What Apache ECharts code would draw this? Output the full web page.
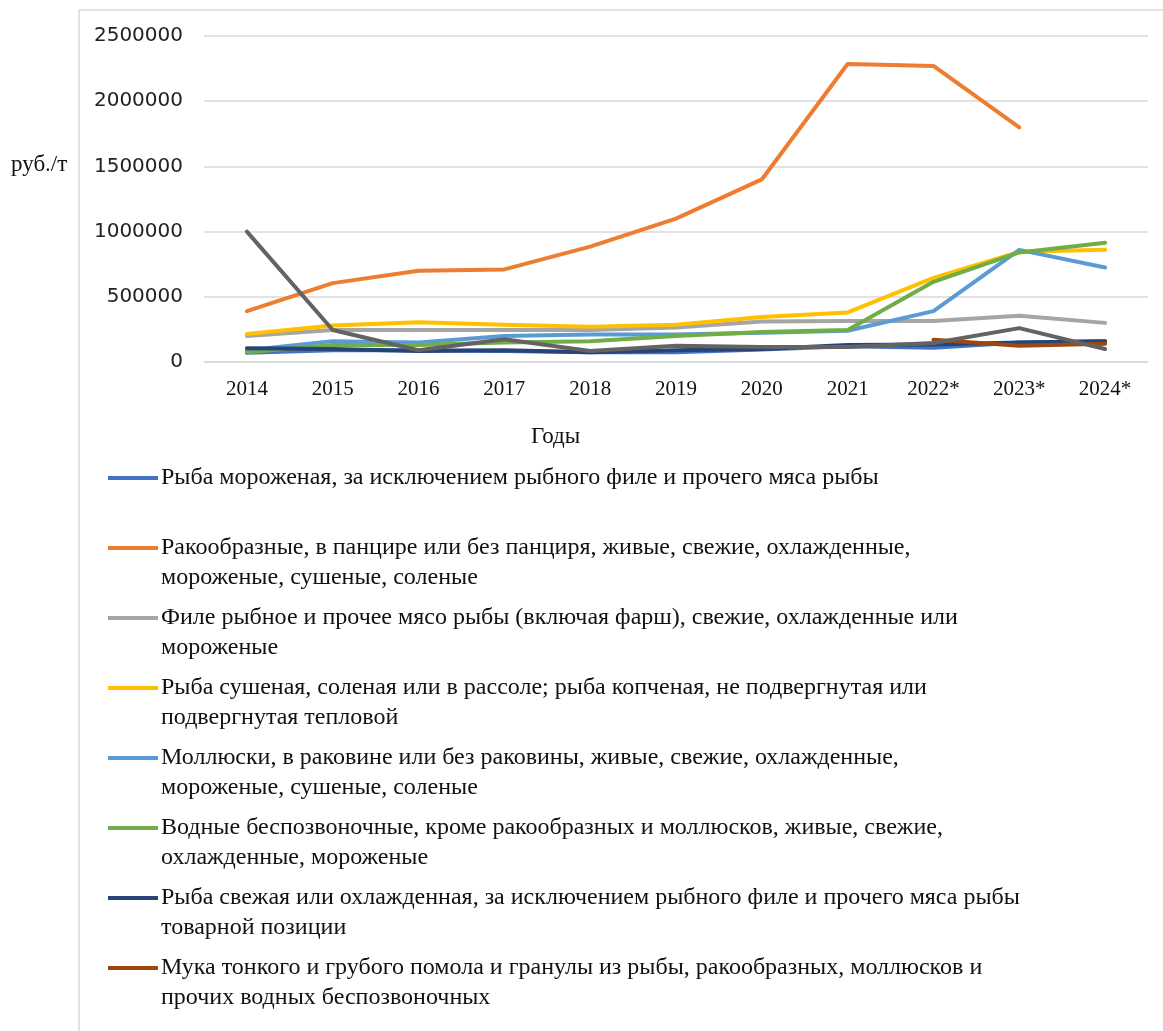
<!DOCTYPE html>
<html>
<head>
<meta charset="utf-8">
<script src="https://cdn.jsdelivr.net/npm/echarts@6/dist/echarts.min.js"></script>
<style>
  html, body { margin: 0; padding: 0; background: #fff; }
  #chart { width: 1163px; height: 1031px; }
</style>
</head>
<body>
<div id="chart"></div>
<script>
// categories
var years = ['2014', '2015', '2016', '2017', '2018', '2019', '2020', '2021', '2022*', '2023*', '2024*']

// series names (legend)
var names = [
  'Рыба мороженая, за исключением рыбного филе и прочего мяса рыбы',
  'Ракообразные, в панцире или без панциря, живые, свежие, охлажденные,\nмороженые, сушеные, соленые',
  'Филе рыбное и прочее мясо рыбы (включая фарш), свежие, охлажденные или\nмороженые',
  'Рыба сушеная, соленая или в рассоле; рыба копченая, не подвергнутая или\nподвергнутая тепловой',
  'Моллюски, в раковине или без раковины, живые, свежие, охлажденные,\nмороженые, сушеные, соленые',
  'Водные беспозвоночные, кроме ракообразных и моллюсков, живые, свежие,\nохлажденные, мороженые',
  'Рыба свежая или охлажденная, за исключением рыбного филе и прочего мяса рыбы\nтоварной позиции',
  'Мука тонкого и грубого помола и гранулы из рыбы, ракообразных, моллюсков и\nпрочих водных беспозвоночных'
]
var otherName = 'Прочее'

// values, руб./т
var frozenFish = [70000, 90000, 90000, 85000, 75000, 75000, 95000, 120000, 110000, 150000, 160000]
var crustaceans = [390000, 605000, 700000, 710000, 885000, 1100000, 1400000, 2285000, 2270000, 1800000, null]
var fillet = [200000, 245000, 245000, 245000, 245000, 265000, 310000, 315000, 315000, 355000, 300000]
var driedFish = [215000, 280000, 305000, 285000, 270000, 285000, 345000, 380000, 645000, 845000, 860000]
var molluscs = [90000, 160000, 150000, 200000, 210000, 210000, 225000, 240000, 390000, 860000, 725000]
var invertebrates = [75000, 130000, 130000, 150000, 160000, 200000, 230000, 245000, 615000, 840000, 915000]
var freshFish = [105000, 100000, 85000, 90000, 75000, 90000, 100000, 130000, 135000, 150000, 160000]
var fishMeal = [null, null, null, null, null, null, null, null, 170000, 125000, 140000]
var other = [1000000, 245000, 90000, 175000, 85000, 125000, 115000, 115000, 145000, 260000, 100000]

var colors = ['#4472C4', '#ED7D31', '#A5A5A5', '#FFC000', '#5B9BD5', '#70AD47', '#264478', '#9E480E', '#636363']
var values = [frozenFish, crustaceans, fillet, driedFish, molluscs, invertebrates, freshFish, fishMeal, other]

var chart = echarts.init(document.getElementById('chart'))

var series = values.map(function (data, i) {
  return {
    name: i < names.length ? names[i] : otherName,
    type: 'line',
    data: data,
    symbol: 'none',
    color: colors[i],
    lineStyle: { width: 4, cap: 'round', join: 'round' },
    emphasis: { disabled: true }
  }
})

// legend marker sits on the first text line: bar at the top, empty point below
var legendIcon = 'path://M0,0L50,0L50,4L0,4Z M0,34L0,34'

var option = {
  animation: false,
  grid: { left: 204, right: 15, top: 36, bottom: 669 },
  xAxis: {
    type: 'category',
    data: years,
    boundaryGap: true,
    axisLine: { lineStyle: { color: '#d9d9d9', width: 1.5 } },
    axisTick: { show: false },
    axisLabel: { margin: 17, color: '#111', fontFamily: 'Liberation Serif', fontSize: 21 }
  },
  yAxis: {
    type: 'value',
    min: 0,
    max: 2500000,
    interval: 500000,
    axisLine: { show: false },
    axisTick: { show: false },
    splitLine: { lineStyle: { color: '#d9d9d9', width: 1.5 } },
    axisLabel: {
      margin: 21, color: '#222', fontFamily: 'DejaVu Sans', fontSize: 20,
      formatter: function (v) { return String(v) }
    }
  },
  legend: {
    data: names,
    orient: 'vertical',
    left: 108,
    top: 463,
    padding: 0,
    icon: legendIcon,
    itemWidth: 50,
    itemHeight: 34,
    itemGap: 10,
    selectedMode: false,
    itemStyle: { borderWidth: 0 },
    textStyle: {
      color: '#111',
      fontFamily: 'Liberation Serif',
      fontSize: 24,
      lineHeight: 30,
      padding: [0, 0, 0, -2]
    },
    formatter: function (name) {
      return name.indexOf('\n') < 0 ? name + '\n ' : name
    }
  },
  graphic: [
    { type: 'line', shape: { x1: 79, y1: 10, x2: 1163, y2: 10 }, style: { stroke: '#d9d9d9', lineWidth: 1.5 } },
    { type: 'line', shape: { x1: 79, y1: 10, x2: 79, y2: 1031 }, style: { stroke: '#d9d9d9', lineWidth: 1.5 } },
    { type: 'text', left: 11, top: 153, style: { text: 'руб./т', fontFamily: 'Liberation Serif', fontSize: 23, fill: '#111' } },
    { type: 'text', left: 531, top: 425, style: { text: 'Годы', fontFamily: 'Liberation Serif', fontSize: 23, fill: '#111' } }
  ],
  series: series
}

option && chart.setOption(option)
</script>
</body>
</html>
